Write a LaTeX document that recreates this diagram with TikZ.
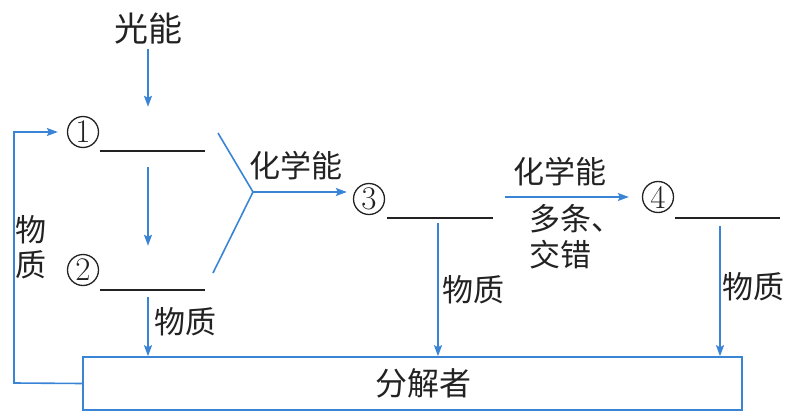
\documentclass[tikz,border=0pt]{standalone}
\usepackage{fontspec}
\newfontfamily\cjk{Noto Sans CJK SC}
\usepackage{tikz}
\usetikzlibrary{arrows.meta,positioning}
\usepackage{xcolor}
\definecolor{flowblue}{HTML}{3A84D6}
\definecolor{inkgray}{HTML}{222222}

\begin{document}
\begin{tikzpicture}[x=1pt,y=-1pt,
  flow/.style={flowblue,line width=1.6pt},
  flowarrow/.style={flow,-{Stealth[length=11pt,width=8pt,inset=2pt]}},
  lbl/.style={font=\cjk\fontsize{31}{36}\selectfont,text=inkgray,inner sep=0pt},
  circled/.style={circle,draw=inkgray,line width=1.3pt,minimum size=31pt,inner sep=0pt,
    font=\fontsize{33}{33}\selectfont,text=inkgray},
  blank/.style={minimum width=105pt,minimum height=44pt,inner sep=0pt},
  blankline/.style={inkgray,line width=2pt},
  box/.style={draw=flowblue,line width=1.6pt,minimum width=659pt,minimum height=53pt,inner sep=0pt,
    font=\cjk\fontsize{32}{36}\selectfont,text=inkgray}]
\useasboundingbox (0,0) rectangle (804,420);
\node[lbl,font=\cjk\fontsize{34}{38}\selectfont] (light) at (148,29) {光能};
\node[circled] (n1) at (83,132) {1};
\node[circled] (n2) at (83,270) {2};
\node[circled] (n3) at (369,199) {3};
\node[circled] (n4) at (658,197) {4};
\node[blank] (b1) at (152.5,129) {};
\node[blank] (b2) at (152.5,268) {};
\node[blank] (b3) at (440,196) {};
\node[blank] (b4) at (727.5,196) {};
\foreach \b in {b1,b2,b3,b4}
  \draw[blankline] (\b.south west) -- (\b.south east);
\node[box] (decomp) at (412.5,383.5) {\hspace*{22pt}分解者};
\coordinate (fkA) at (218,133);
\coordinate (fork) at (253,192);
\coordinate (fkB) at (213,273);
\coordinate (loopL) at (14,383);
\draw[flowarrow,shorten <=4pt] (light.south) -- (light.south |- b1.north);
\draw[flowarrow,shorten <=16pt] ([xshift=-4.5pt]b1.south) -- ([xshift=-4.5pt]b2.north);
\draw[flowarrow,shorten <=7pt] ([xshift=-4.5pt]b2.south) -- ([xshift=-4.5pt]b2.south |- decomp.north);
\draw[flowarrow,shorten <=5pt] ([xshift=-2pt]b3.south) -- ([xshift=-2pt]b3.south |- decomp.north);
\draw[flowarrow,shorten <=8pt] ([xshift=-7.5pt]b4.south) -- ([xshift=-7.5pt]b4.south |- decomp.north);
\draw[flow] (fkA) -- (fork) -- (fkB);
\draw[flowarrow,shorten >=6pt] (fork) -- (fork -| n3.west);
\draw[flowarrow,shorten <=12pt,shorten >=13pt] ([yshift=-1pt]b3.east) -- ([yshift=-1pt]b3.east -| n4.west);
\draw[flowarrow,shorten >=9pt] (decomp.west) -- (loopL) -- (loopL |- n1) -- (n1.west);
\node[lbl,align=center] (matL) at (31,247) {物\\[-1pt]质};
\node[lbl] (mat2) at (185,322) {物质};
\node[lbl] (mat3) at (473,290) {物质};
\node[lbl] (mat4) at (753,287) {物质};
\node[lbl] (chem1) at (296,166) {化学能};
\node[lbl] (chem2) at (560,172) {化学能};
\node[lbl,align=left,anchor=west] (multi) at (529,237) {多条、\\交错};
\end{tikzpicture}
\end{document}
